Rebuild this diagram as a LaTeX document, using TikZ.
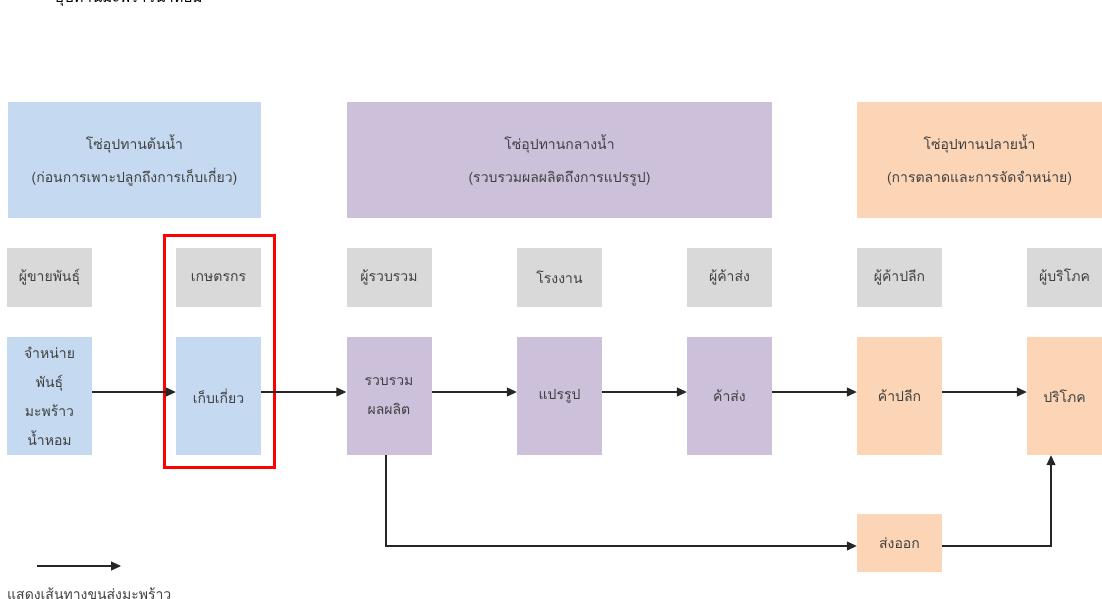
\documentclass[tikz,border=0pt]{standalone}
\usepackage{fontspec}
\newfontfamily\thaifont[Script=Thai]{Loma}
\usetikzlibrary{arrows.meta,positioning}
\definecolor{upblue}{HTML}{C5D9F0}
\definecolor{midpurple}{HTML}{CCC0DA}
\definecolor{downorange}{HTML}{FBD5B5}
\definecolor{rolegray}{HTML}{D9D9D9}
\definecolor{txt}{HTML}{404040}
\tikzset{
  box/.style={draw=none,inner sep=0pt,align=center,text=txt,font=\thaifont\fontsize{14}{29}\selectfont},
  headbox/.style={box,font=\thaifont\fontsize{14}{33}\selectfont,minimum height=116pt},
  flow/.style={-{Triangle[length=10pt,width=9pt]},line width=1.2pt,black!85},
}
\begin{document}
\begin{tikzpicture}[x=1pt,y=-1pt]
\useasboundingbox (0,0) rectangle (1102,598);
\clip (0,0) rectangle (1102,598);
% clipped title at top
\node[anchor=base west,text=black,font=\thaifont\fontsize{15}{16}\selectfont,inner sep=0pt] (title) at (55,2) {อุปทานมะพร้าวน้ำหอม};
% header boxes
\node[headbox,fill=upblue,minimum width=253pt] (h1) at (134.5,160) {โซ่อุปทานต้นน้ำ\\(ก่อนการเพาะปลูกถึงการเก็บเกี่ยว)};
\node[headbox,fill=midpurple,minimum width=425pt] (h2) at (559.5,160) {โซ่อุปทานกลางน้ำ\\(รวบรวมผลผลิตถึงการแปรรูป)};
\node[headbox,fill=downorange,minimum width=245pt] (h3) at (979.5,160) {โซ่อุปทานปลายน้ำ\\(การตลาดและการจัดจำหน่าย)};
% role boxes
\tikzset{role/.style={box,fill=rolegray,minimum width=85pt,minimum height=59pt}}
\node[role] (r1) at (49.5,277.5) {ผู้ขายพันธุ์};
\node[role] (r2) at (218.5,277.5) {เกษตรกร};
\node[role] (r3) at (389,277.5) {ผู้รวบรวม};
\node[role] (r4) at (559.5,277.5) {โรงงาน};
\node[role] (r5) at (729.5,277.5) {ผู้ค้าส่ง};
\node[role] (r6) at (899.5,277.5) {ผู้ค้าปลีก};
\node[role,minimum width=75pt] (r7) at (1064.5,277.5) {ผู้บริโภค};
% process boxes
\tikzset{proc/.style={box,minimum width=85pt,minimum height=118pt}}
\node[proc,fill=upblue] (p1) at (49.5,396) {จำหน่าย\\พันธุ์\\มะพร้าว\\น้ำหอม};
\node[proc,fill=upblue] (p2) at (218.5,396) {เก็บเกี่ยว};
\node[proc,fill=midpurple] (p3) at (389,396) {รวบรวม\\ผลผลิต};
\node[proc,fill=midpurple] (p4) at (559.5,396) {แปรรูป};
\node[proc,fill=midpurple] (p5) at (729.5,396) {ค้าส่ง};
\node[proc,fill=downorange] (p6) at (899.5,396) {ค้าปลีก};
\node[proc,fill=downorange,minimum width=75pt] (p7) at (1064.5,396) {ปริโภค};
\node[box,fill=downorange,minimum width=85pt,minimum height=58pt] (ex) at (899.5,543) {ส่งออก};
% highlight
\node[draw=red,line width=3pt,minimum width=110pt,minimum height=232pt,inner sep=0pt] (hl) at (219,351) {};
% flows
\draw[flow] (p1.east |- 0,392) -- (p2.west |- 0,392);
\draw[flow] (p2.east |- 0,392) -- (p3.west |- 0,392);
\draw[flow] (p3.east |- 0,392) -- (p4.west |- 0,392);
\draw[flow] (p4.east |- 0,392) -- (p5.west |- 0,392);
\draw[flow] (p5.east |- 0,392) -- (p6.west |- 0,392);
\draw[flow] (p6.east |- 0,392) -- (p7.west |- 0,392);
\coordinate (c1) at (386,546);
\coordinate (c2) at (1051,546);
\draw[flow] (p3.south -| c1) -- (c1) -- (ex.west |- c1);
\draw[flow] (ex.east |- c2) -- (c2) -- (p7.south -| c2);
% legend
\coordinate (la) at (37,566);
\coordinate (lb) at (121,566);
\draw[flow] (la) -- (lb);
\node[anchor=base west,inner sep=0pt,text=txt,font=\thaifont\fontsize{14}{16}\selectfont] (legend) at (7,599) {แสดงเส้นทางขนส่งมะพร้าว};
\end{tikzpicture}
\end{document}
